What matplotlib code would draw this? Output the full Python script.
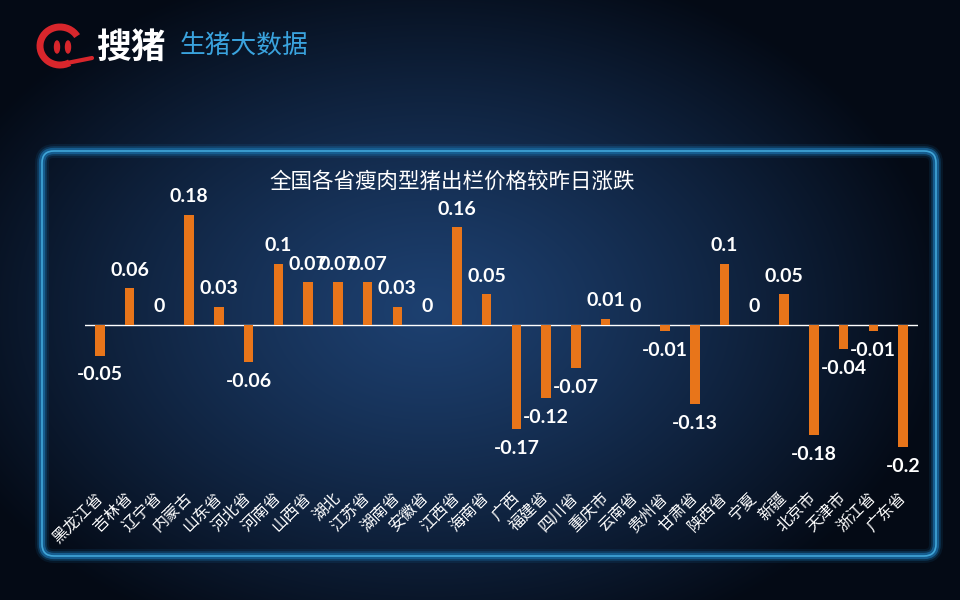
import numpy as np
import matplotlib
matplotlib.use("Agg")
import matplotlib.pyplot as plt
from matplotlib.patches import FancyBboxPatch, Arc, Ellipse

plt.rcParams['font.family'] = ['Noto Sans CJK SC', 'DejaVu Sans']

provinces = ["黑龙江省", "吉林省", "辽宁省", "内蒙古", "山东省", "河北省", "河南省",
             "山西省", "湖北", "江苏省", "湖南省", "安徽省", "江西省", "海南省",
             "广西", "福建省", "四川省", "重庆市", "云南省", "贵州省", "甘肃省",
             "陕西省", "宁夏", "新疆", "北京市", "天津市", "浙江省", "广东省"]
changes = [-0.05, 0.06, 0, 0.18, 0.03, -0.06, 0.1,
           0.07, 0.07, 0.07, 0.03, 0, 0.16, 0.05,
           -0.17, -0.12, -0.07, 0.01, 0, -0.01, -0.13,
           0.1, 0, 0.05, -0.18, -0.04, -0.01, -0.2]
title = "全国各省瘦肉型猪出栏价格较昨日涨跌"

W, H = 960, 600
fig = plt.figure(figsize=(9.6, 6), dpi=100)

# ---- background gradient ----
bg = fig.add_axes([0, 0, 1, 1])
yy, xx = np.mgrid[0:H, 0:W]
d = np.sqrt(((xx - 430) / 520.0) ** 2 + ((yy - 310) / 360.0) ** 2)
t = np.clip(d, 0, 1) ** 1.2
c_in = np.array([0x1d, 0x40, 0x70]) / 255.0
c_out = np.array([0x04, 0x0a, 0x15]) / 255.0
img = c_in[None, None, :] * (1 - t[..., None]) + c_out[None, None, :] * t[..., None]
bg.imshow(img, extent=[0, W, H, 0], aspect='auto', zorder=0)
bg.set_xlim(0, W)
bg.set_ylim(H, 0)
bg.axis('off')

# ---- glowing panel border ----
box = dict(xy=(42, 151), width=894, height=405)
for lw, a in [(10, 0.10), (7, 0.22)]:
    bg.add_patch(FancyBboxPatch(box['xy'], box['width'], box['height'],
                                boxstyle="round,pad=0,rounding_size=12",
                                fill=False, ec='#1e8fd6', lw=lw, alpha=a, zorder=2))
bg.add_patch(FancyBboxPatch(box['xy'], box['width'], box['height'],
                            boxstyle="round,pad=0,rounding_size=12",
                            fill=False, ec='#175f92', lw=4.5, alpha=0.95, zorder=3))
bg.add_patch(FancyBboxPatch(box['xy'], box['width'], box['height'],
                            boxstyle="round,pad=0,rounding_size=12",
                            fill=False, ec='#45aee0', lw=1.2, alpha=0.9, zorder=3))

# ---- logo ----
bg.add_patch(Arc((60, 46), 40, 38, angle=0, theta1=60, theta2=330,
                 color='#d8262c', lw=5, zorder=4))
bg.add_patch(Ellipse((57, 47), 5, 12, color='#d8262c', zorder=4))
bg.add_patch(Ellipse((68, 47), 5, 12, color='#d8262c', zorder=4))
bg.plot([62, 92], [64, 58], color='#d8262c', lw=3, zorder=4, solid_capstyle='round')
bg.text(96, 47, "搜猪", color='white', fontsize=25, fontweight='bold',
        va='center', ha='left', zorder=4)
bg.text(180, 47, "生猪大数据", color='#3aa3de', fontsize=18.5,
        va='center', ha='left', zorder=4)

# ---- title ----
bg.text(452, 182, title, color='white', fontsize=15.5, va='center', ha='center', zorder=4)

# ---- chart ----
ymin, ymax = -0.24, 0.2
scale = 611.0
ax_h = (ymax - ymin) * scale
ax_bottom_px = 325 + (-ymin) * scale
ax = fig.add_axes([85 / W, (H - ax_bottom_px) / H, 833 / W, ax_h / H])
ax.patch.set_alpha(0)
x = np.arange(len(provinces))
ax.bar(x, changes, width=0.32, color='#e8751a', zorder=3)
ax.axhline(0, color='white', lw=1.0, zorder=2)
ax.set_xlim(-0.5, len(provinces) - 0.5)
ax.set_ylim(ymin, ymax)
for s in ax.spines.values():
    s.set_visible(False)
ax.set_yticks([])
ax.set_xticks(x)
ax.set_xticklabels(provinces, rotation=45, ha='right', va='center',
                   rotation_mode='anchor', color='white', fontsize=11.5)
ax.tick_params(axis='x', length=0, pad=17)

for xi, v in zip(x, changes):
    off = 13 if v >= 0 else -14
    ax.annotate(f"{v:g}", (xi, v), xytext=(0, off), textcoords='offset points',
                ha='center', va='center', color='white', fontsize=14,
                fontweight='bold', family=['Lato', 'DejaVu Sans'], zorder=5)

fig.savefig("out.png", dpi=100)
